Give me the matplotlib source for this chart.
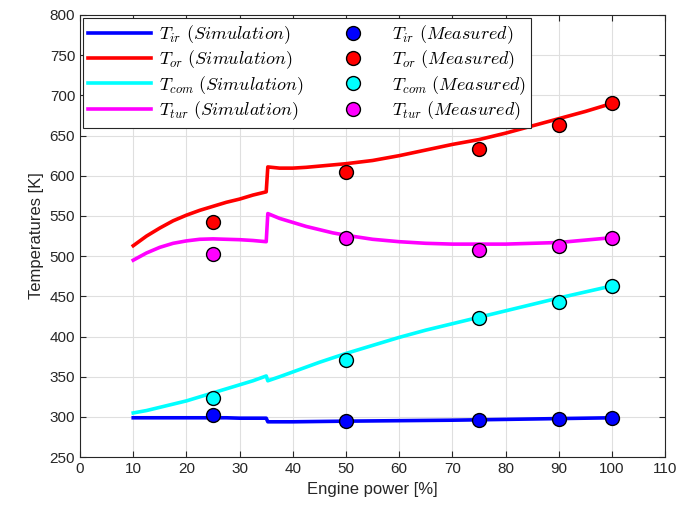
import numpy as np
import matplotlib
matplotlib.use('Agg')
import matplotlib.pyplot as plt

#----Simulation curves----#
sim_x = [10, 12.5, 15, 17.5, 20, 22.5, 25, 27.5, 30, 32.5, 35, 35.3, 37.5, 40, 42.5, 45, 47.5, 50,
         55, 60, 65, 70, 75, 80, 85, 90, 95, 100]
T_ir_sim = [299, 299, 299, 299, 299, 299, 299, 299, 298.5, 298.5, 298.5, 294, 294, 294, 294.2, 294.4, 294.6, 294.8,
            295.1, 295.4, 295.7, 296, 296.5, 297, 297.5, 298, 298.5, 299]
T_or_sim = [513, 525, 535, 544, 551, 557, 562, 567, 571, 576, 580, 611, 609.5, 609.5, 610.5, 612, 613.5, 615,
            619, 625, 632, 639, 645, 653, 662, 671, 680, 690]
T_com_sim = [305, 308, 312, 316, 320, 325, 330, 335, 340, 345, 351, 345, 350, 356, 362, 368, 373.5, 379,
             389, 399, 408, 416, 424, 432, 440, 448, 455.5, 463]
T_tur_sim = [495, 504, 511, 516, 519, 521, 521.5, 521, 520.5, 519.5, 518, 553, 547, 542, 537, 533, 529, 526,
             521, 518, 516, 515, 515, 515, 516, 517, 520, 523]

#----Measured points----#
meas_x = [25, 50, 75, 90, 100]
T_ir_meas = [302, 295, 296, 298, 299]
T_or_meas = [543, 605, 633, 663, 691]
T_com_meas = [324, 371, 423, 443, 463]
T_tur_meas = [503, 523, 508, 513, 523]

names = ['ir', 'or', 'com', 'tur']
colors = ['#0000ff', '#ff0000', '#00ffff', '#ff00ff']
sims = [T_ir_sim, T_or_sim, T_com_sim, T_tur_sim]
meas = [T_ir_meas, T_or_meas, T_com_meas, T_tur_meas]

plt.rcParams['font.family'] = ['Liberation Sans', 'DejaVu Sans']
plt.rcParams['mathtext.fontset'] = 'cm'

fig = plt.figure(figsize=(6.9, 5.16), dpi=100)
ax = fig.add_axes([0.116, 0.114, 0.848, 0.857])

line_handles = []
for name, c, y in zip(names, colors, sims):
    h, = ax.plot(sim_x, y, color=c, linewidth=2.6, label=r'$T_{%s}\ (Simulation)$' % name, zorder=3)
    line_handles.append(h)

marker_handles = []
for name, c, y in zip(names, colors, meas):
    h, = ax.plot(meas_x, y, linestyle='none', marker='o', markersize=10, markerfacecolor=c,
                 markeredgecolor='black', markeredgewidth=1.0, label=r'$T_{%s}\ (Measured)$' % name, zorder=4)
    marker_handles.append(h)

ax.set_xlim(0, 110)
ax.set_ylim(250, 800)
ax.set_xticks(np.arange(0, 111, 10))
ax.set_yticks(np.arange(250, 801, 50))
ax.grid(True, color='#dfdfdf', linewidth=0.8)
ax.set_axisbelow(True)
ax.tick_params(direction='in', top=True, right=True, labelsize=11, colors='#262626', length=4)
for s in ax.spines.values():
    s.set_color('#262626')
    s.set_linewidth(0.8)

ax.set_xlabel('Engine power [%]', fontsize=12, color='#262626')
ax.set_ylabel('Temperatures [K]', fontsize=12, color='#262626')

leg = ax.legend(handles=line_handles + marker_handles, ncol=2, loc='upper left', fontsize=13,
                fancybox=False, framealpha=1, edgecolor='#262626', borderaxespad=0.15,
                handlelength=3.5, handletextpad=0.4, columnspacing=1.0, labelspacing=0.15,
                borderpad=0.3)
leg.get_frame().set_linewidth(0.8)

fig.savefig('out.png', dpi=100)
